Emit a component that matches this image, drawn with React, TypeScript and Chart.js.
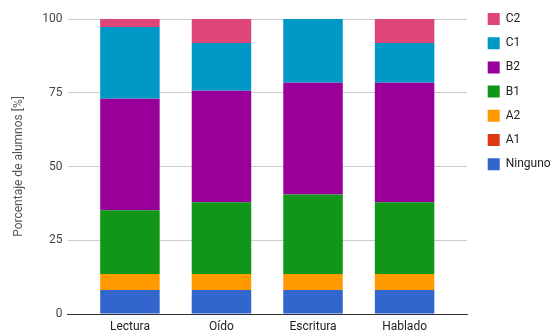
import React, { useEffect, useRef } from "react";
import { Chart, registerables } from "chart.js";

Chart.register(...registerables);

// Skill areas on the x axis
const categories = ["Lectura", "Oído", "Escritura", "Hablado"];

// Share of students per level, in percent (stacked to 100)
const ninguno = [8.11, 8.11, 8.11, 8.11];
const a1 = [0, 0, 0, 0];
const a2 = [5.41, 5.41, 5.41, 5.41];
const b1 = [21.62, 24.32, 27.03, 24.32];
const b2 = [37.84, 37.84, 37.84, 40.54];
const c1 = [24.32, 16.22, 21.62, 13.51];
const c2 = [2.7, 8.11, 0, 8.11];

const seriesLabels = ["Ninguno", "A1", "A2", "B1", "B2", "C1", "C2"];
const seriesValues = [ninguno, a1, a2, b1, b2, c1, c2];
const seriesColors = ["#3366cc", "#dc3912", "#ff9900", "#109618", "#990099", "#0099c6", "#dd4477"];

const yTicks = [0, 25, 50, 75, 100];

const FONT = "Roboto, 'Noto Sans', Arial, sans-serif";

// Places the right-hand legend next to the plot, starting at the canvas top
const legendShift = {
  id: "legendShift",
  afterLayout(chart: any) {
    const lg = chart.legend;
    if (lg) {
      const dx = 8.5;
      const dy = -18.2;
      lg.left += dx;
      lg.right += dx;
      lg.top += dy;
      lg.bottom += dy;
    }
  },
};

export default function App() {
  const canvasRef = useRef<HTMLCanvasElement | null>(null);

  useEffect(() => {
    document.body.style.margin = "0";
    const ctx = canvasRef.current;
    if (!ctx) return;
    const chart = new Chart(ctx, {
      type: "bar",
      data: {
        datasets: seriesLabels.map((label, i) => ({
          label,
          data: seriesValues[i].map((v, j) => ({ x: j, y: v })),
          backgroundColor: seriesColors[i],
          borderWidth: 0,
          barPercentage: 0.65,
          categoryPercentage: 1,
        })),
      },
      options: {
        animation: false,
        responsive: false,
        maintainAspectRatio: false,
        layout: { padding: { top: 19, right: 0, bottom: 0, left: 0 } },
        plugins: {
          tooltip: { enabled: false },
          legend: {
            position: "right",
            align: "start",
            reverse: true,
            maxWidth: 85,
            labels: {
              boxWidth: 12,
              boxHeight: 12,
              padding: 12.2,
              color: "#222",
              font: { family: FONT, size: 12 },
            },
          },
        },
        scales: {
          x: {
            type: "linear",
            stacked: true,
            offset: false,
            min: -0.682,
            max: categories.length - 1 + 0.682,
            afterBuildTicks(scale: any) {
              scale.ticks = categories.map((_, i) => ({ value: i }));
            },
            grid: { display: false, drawTicks: false },
            border: { display: true, color: "#333", width: 1 },
            ticks: {
              color: "#222",
              font: { family: FONT, size: 12 },
              padding: 6,
              autoSkip: false,
              maxRotation: 0,
              callback: (v: any) => categories[v as number] ?? "",
            },
            afterFit(scale: any) {
              scale.height = 18;
            },
          },
          y: {
            stacked: true,
            min: 0,
            max: 100,
            afterBuildTicks(scale: any) {
              scale.ticks = yTicks.map((v) => ({ value: v }));
            },
            grid: { color: "#cccccc", drawTicks: false, lineWidth: 1 },
            border: { display: false },
            ticks: { color: "#444", font: { family: FONT, size: 12 }, padding: 5 },
            title: {
              display: true,
              text: "Porcentaje de alumnos [%]",
              color: "#555",
              font: { family: FONT, size: 12 },
              padding: { top: 12, bottom: 0 },
            },
            afterFit(scale: any) {
              scale.width = 67.5;
            },
          },
        },
      },
      plugins: [legendShift],
    });
    return () => chart.destroy();
  }, []);

  return (
    <div style={{ width: 552, height: 332 }}>
      <canvas ref={canvasRef} width={552} height={332} style={{ display: "block" }} />
    </div>
  );
}
